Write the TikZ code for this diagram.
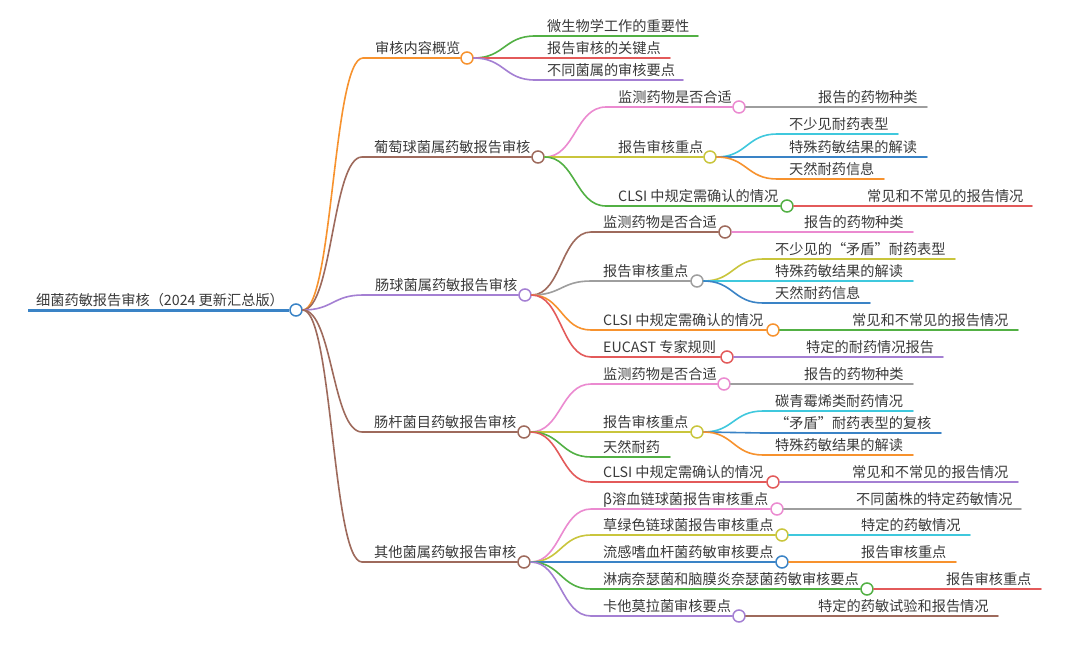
\documentclass[tikz,border=0pt]{standalone}
\usepackage{fontspec}
\setmainfont{Noto Sans CJK SC}
\usetikzlibrary{calc}
\definecolor{cblue}{HTML}{3A83C6}
\definecolor{corange}{HTML}{F7922E}
\definecolor{cgreen}{HTML}{52B044}
\definecolor{cred}{HTML}{E35A5A}
\definecolor{cpurple}{HTML}{A47FD3}
\definecolor{cbrown}{HTML}{9E6A5C}
\definecolor{cpink}{HTML}{EB8AD0}
\definecolor{cgrey}{HTML}{9E9E9E}
\definecolor{colive}{HTML}{C9C53C}
\definecolor{ccyan}{HTML}{3FC8DD}
\definecolor{ctext}{HTML}{3A3A3A}
\tikzset{
  txt/.style={inner sep=0pt, anchor=base west, text=ctext, font=\fontsize{14.2}{16}\selectfont},
  dot/.style={circle, fill=white, line width=1.5pt, minimum size=12pt, inner sep=0pt},
  br/.style={line width=1.6pt, line cap=round}
}
% circle topic: name, parent, colour, text x, line y, circle x, text
\newcommand\topicC[7]{%
  \node[txt] (#1-t) at (#4,#5-4.5) {#7};
  \coordinate (#1-s) at (#4-12,#5);
  \coordinate (#1-m) at ($(#2.east)!0.5!(#1-s)$);
  \node[dot,draw=#3] (#1) at (#6,#5) {};
  \draw[br,draw=#3] (#2.east) .. controls (#1-m |- #2.east) and (#1-m |- #1-s) .. (#1-s) -- (#1.west);
}
% leaf topic: name, parent, colour, text x, line y, line end x, text
\newcommand\topicL[7]{%
  \node[txt] (#1-t) at (#4,#5-4.5) {#7};
  \coordinate (#1-s) at (#4-12,#5);
  \coordinate (#1-m) at ($(#2.east)!0.5!(#1-s)$);
  \coordinate (#1) at (#6,#5);
  \draw[br,draw=#3] (#2.east) .. controls (#1-m |- #2.east) and (#1-m |- #1-s) .. (#1-s) -- (#1);
}
\begin{document}
\begin{tikzpicture}[x=1pt,y=-1pt]
\useasboundingbox[fill=white] (0,0) rectangle (1080,645);
% root
\node[txt] (root-t) at (36,310-5) {细菌药敏报告审核（2024 更新汇总版）};
\coordinate (root-s) at (28,310);
\node[dot,draw=cblue] (root) at (296,310) {};
\draw[line width=3pt,draw=cblue] (root-s) -- (root.west);

% A
\topicC{A}{root}{corange}{375}{58}{467}{审核内容概览}
\topicL{A1}{A}{cgreen}{547}{36}{698}{微生物学工作的重要性}
\topicL{A2}{A}{cred}{547}{58}{670}{报告审核的关键点}
\topicL{A3}{A}{cpurple}{547}{80}{683}{不同菌属的审核要点}

% B
\topicC{B}{root}{cbrown}{374}{157}{538}{葡萄球菌属药敏报告审核}
\topicC{B1}{B}{cpink}{618}{107}{739}{监测药物是否合适}
\topicL{B1a}{B1}{cgrey}{818}{107}{927}{报告的药物种类}
\topicC{B2}{B}{colive}{618}{157}{710}{报告审核重点}
\topicL{B2a}{B2}{ccyan}{789}{134}{898}{不少见耐药表型}
\topicL{B2b}{B2}{cblue}{789}{157}{927}{特殊药敏结果的解读}
\topicL{B2c}{B2}{corange}{789}{179}{884}{天然耐药信息}
\topicC{B3}{B}{cgreen}{618}{206}{787}{CLSI 中规定需确认的情况}
\topicL{B3a}{B3}{cred}{867}{206}{1032}{常见和不常见的报告情况}

% C
\topicC{C}{root}{cpurple}{375}{295}{525}{肠球菌属药敏报告审核}
\topicC{C1}{C}{cbrown}{603}{232}{725}{监测药物是否合适}
\topicL{C1a}{C1}{cpink}{804}{232}{913}{报告的药物种类}
\topicC{C2}{C}{cgrey}{603}{281}{697}{报告审核重点}
\topicL{C2a}{C2}{colive}{775}{259}{955}{不少见的“矛盾”耐药表型}
\topicL{C2b}{C2}{ccyan}{775}{281}{913}{特殊药敏结果的解读}
\topicL{C2c}{C2}{cblue}{775}{303}{870}{天然耐药信息}
\topicC{C3}{C}{corange}{603}{330}{773}{CLSI 中规定需确认的情况}
\topicL{C3a}{C3}{cgreen}{852}{330}{1018}{常见和不常见的报告情况}
\topicC{C4}{C}{cred}{603}{357}{727}{EUCAST 专家规则}
\topicL{C4a}{C4}{cpurple}{806}{357}{943}{特定的耐药情况报告}

% D
\topicC{D}{root}{cbrown}{374}{432}{524}{肠杆菌目药敏报告审核}
\topicC{D1}{D}{cpink}{603}{384}{724}{监测药物是否合适}
\topicL{D1a}{D1}{cgrey}{804}{384}{913}{报告的药物种类}
\topicC{D2}{D}{colive}{603}{432}{697}{报告审核重点}
\topicL{D2a}{D2}{ccyan}{775}{411}{913}{碳青霉烯类耐药情况}
\topicL{D2b}{D2}{cblue}{775}{433}{941}{“矛盾”耐药表型的复核}
\topicL{D2c}{D2}{corange}{775}{455}{913}{特殊药敏结果的解读}
\topicL{D3}{D}{cgreen}{603}{457}{670}{天然耐药}
\topicC{D4}{D}{cred}{603}{482}{773}{CLSI 中规定需确认的情况}
\topicL{D4a}{D4}{cpurple}{852}{482}{1018}{常见和不常见的报告情况}

% E
\topicC{E}{root}{cbrown}{374}{562}{524}{其他菌属药敏报告审核}
\topicC{E1}{E}{cpink}{603}{509}{777}{β溶血链球菌报告审核重点}
\topicL{E1a}{E1}{cgrey}{856}{509}{1021}{不同菌株的特定药敏情况}
\topicC{E2}{E}{colive}{603}{535}{782}{草绿色链球菌报告审核重点}
\topicL{E2a}{E2}{ccyan}{861}{535}{970}{特定的药敏情况}
\topicC{E3}{E}{cblue}{603}{562}{782}{流感嗜血杆菌药敏审核要点}
\topicL{E3a}{E3}{corange}{861}{562}{956}{报告审核重点}
\topicC{E4}{E}{cgreen}{603}{589}{867}{淋病奈瑟菌和脑膜炎奈瑟菌药敏审核要点}
\topicL{E4a}{E4}{cred}{946}{589}{1041}{报告审核重点}
\topicC{E5}{E}{cpurple}{603}{616}{739}{卡他莫拉菌审核要点}
\topicL{E5a}{E5}{cbrown}{818}{616}{998}{特定的药敏试验和报告情况}
\end{tikzpicture}
\end{document}
